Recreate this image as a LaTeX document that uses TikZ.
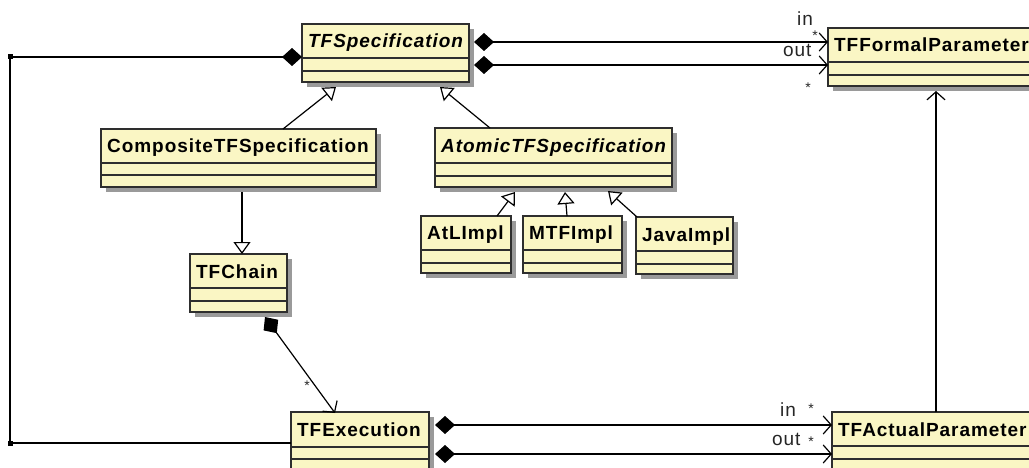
\documentclass[tikz,border=0pt]{standalone}
\usepackage{fontspec}
\setmainfont{Liberation Sans}
\newfontfamily\umlfont{Liberation Sans}[LetterSpace=5]
\usetikzlibrary{arrows.meta,calc,shadows}
\definecolor{clsfill}{HTML}{FAF6C4}
\definecolor{clsline}{HTML}{2E2E2E}
\definecolor{shadowcol}{HTML}{9A9A9A}
\tikzset{
 cls/.style={draw=clsline, line width=1.4pt, fill=clsfill, inner sep=0pt, outer sep=0pt,
   drop shadow={shadow xshift=5pt, shadow yshift=-5pt, fill=shadowcol, opacity=1}},
 divline/.style={draw=clsline, line width=1.4pt},
 ttl/.style={inner sep=0pt, font=\umlfont\bfseries\fontsize{19}{22}\selectfont, text=black},
 lbl/.style={inner sep=0pt, font=\umlfont\fontsize{19}{22}\selectfont, text=black!85},
 mult/.style={inner sep=0pt, font=\umlfont\fontsize{14}{16}\selectfont, text=black!85},
 conn/.style={line width=1.2pt, draw=black},
 gen/.style={conn, -{Triangle[open, length=12pt, width=17pt, fill=white]}},
 nav/.style={conn, -{Straight Barb[length=8pt, width=18pt]}},
 comp/.style={conn, {Diamond[length=20pt, width=18pt]}-{Straight Barb[length=8pt, width=18pt]}},
 compline/.style={conn, {Diamond[length=20pt, width=18pt]}-},
}
% #1 name, #2 x, #3 y (top left), #4 width, #5 height, #6 first divider, #7 second divider, #8 title, #9 font switch
\newcommand\umlclass[9]{%
  \node[cls, anchor=north west, minimum width=#4pt, minimum height=#5pt] (#1) at (#2,#3) {};
  \draw[divline] ($(#1.north west)+(0,-#6pt)$) -- ($(#1.north east)+(0,-#6pt)$);
  \draw[divline] ($(#1.north west)+(0,-#7pt)$) -- ($(#1.north east)+(0,-#7pt)$);
  \node[ttl, anchor=base west] (#1-t) at ($(#1.north west)+(6pt,-#6pt/2-7pt)$) {#9#8};
}
\begin{document}
\begin{tikzpicture}[x=1pt,y=-1pt]
\fill[white] (0,0) rectangle (1029,468);
\useasboundingbox (0,0) rectangle (1029,468);

\umlclass{tfspec}{302}{24}{167}{58}{34}{47}{TFSpecification}{\itshape}
\umlclass{tfformal}{828}{28}{215}{58}{34}{47}{TFFormalParameter}{}
\umlclass{composite}{101}{129}{275}{58}{34}{46}{CompositeTFSpecification}{}
\umlclass{atomic}{435}{128}{237}{59}{35}{48}{AtomicTFSpecification}{\itshape}
\umlclass{atl}{421}{216}{90}{57}{34}{47}{AtLImpl}{}
\umlclass{mtf}{523}{216}{99}{57}{34}{47}{MTFImpl}{}
\umlclass{java}{636}{217}{97}{57}{34}{47}{JavaImpl}{}
\umlclass{tfchain}{190}{254}{97}{58}{34}{47}{TFChain}{}
\umlclass{tfexec}{291}{412}{138}{70}{35}{47}{TFExecution}{}
\umlclass{tfactual}{832}{412}{210}{70}{34}{47}{TFActualParameter}{}

% generalisations
\draw[gen] ($(composite.north west)+(182pt,0)$) -- ($(tfspec.south west)+(34pt,-5pt)$);
\draw[gen] ($(atomic.north west)+(55pt,0)$) -- ($(tfspec.south west)+(138pt,-5pt)$);
\draw[gen] ($(composite.south west)+(141pt,-5pt)$) -- ($(tfchain.north west)+(52pt,0)$);
\draw[gen] ($(atl.north west)+(76pt,0)$) -- ($(atomic.south west)+(80pt,-5pt)$);
\draw[gen] ($(mtf.north west)+(44pt,0)$) -- ($(atomic.south west)+(130pt,-5pt)$);
\draw[gen] ($(java.north west)+(1pt,0)$) -- ($(atomic.south west)+(173pt,-4pt)$);

% loop on the left
\coordinate (c1) at (10,57);
\coordinate (c2) at (10,443);
\draw[compline] ($(tfspec.north west)+(0,-33pt)$) -- (c1) -- (c2) -- ($(tfexec.north west)+(0,-31pt)$);
\fill ($(c1)+(-2.5pt,-2.5pt)$) rectangle ($(c1)+(2.5pt,2.5pt)$);
\fill ($(c2)+(-2.5pt,-2.5pt)$) rectangle ($(c2)+(2.5pt,2.5pt)$);

% TFSpecification -> TFFormalParameter
\coordinate (s1) at ($(tfspec.north east)+(5pt,-18pt)$);
\coordinate (s2) at ($(tfspec.north east)+(5pt,-41pt)$);
\draw[comp] (s1) -- (s1 -| tfformal.west);
\draw[comp] (s2) -- (s2 -| tfformal.west);

% TFExecution -> TFActualParameter
\coordinate (e1) at ($(tfexec.north east)+(6pt,-13pt)$);
\coordinate (e2) at ($(tfexec.north east)+(6pt,-42pt)$);
\draw[comp] (e1) -- (e1 -| tfactual.west);
\draw[comp] (e2) -- (e2 -| tfactual.west);

% TFActualParameter -> TFFormalParameter
\coordinate (a1) at ($(tfactual.north west)+(104pt,0)$);
\draw[nav] (a1) -- ($(a1 |- tfformal.south)+(0,-5pt)$);

% TFChain -> TFExecution
\draw[comp] ($(tfchain.south west)+(75pt,-5pt)$) -- ($(tfexec.north west)+(44pt,-1pt)$);

% labels
\node[lbl, anchor=base west] (lin1) at (797,26) {in};
\node[mult] (ls1) at (815,36) {*};
\node[lbl, anchor=base west] (lout1) at (783,57) {out};
\node[mult] (ls2) at (808,88) {*};
\node[lbl, anchor=base west] (lin2) at (780,416) {in};
\node[mult] (ls3) at (811,409) {*};
\node[lbl, anchor=base west] (lout2) at (772,445) {out};
\node[mult] (ls4) at (811,442) {*};
\node[mult] (ls5) at (307,386) {*};
\end{tikzpicture}
\end{document}
